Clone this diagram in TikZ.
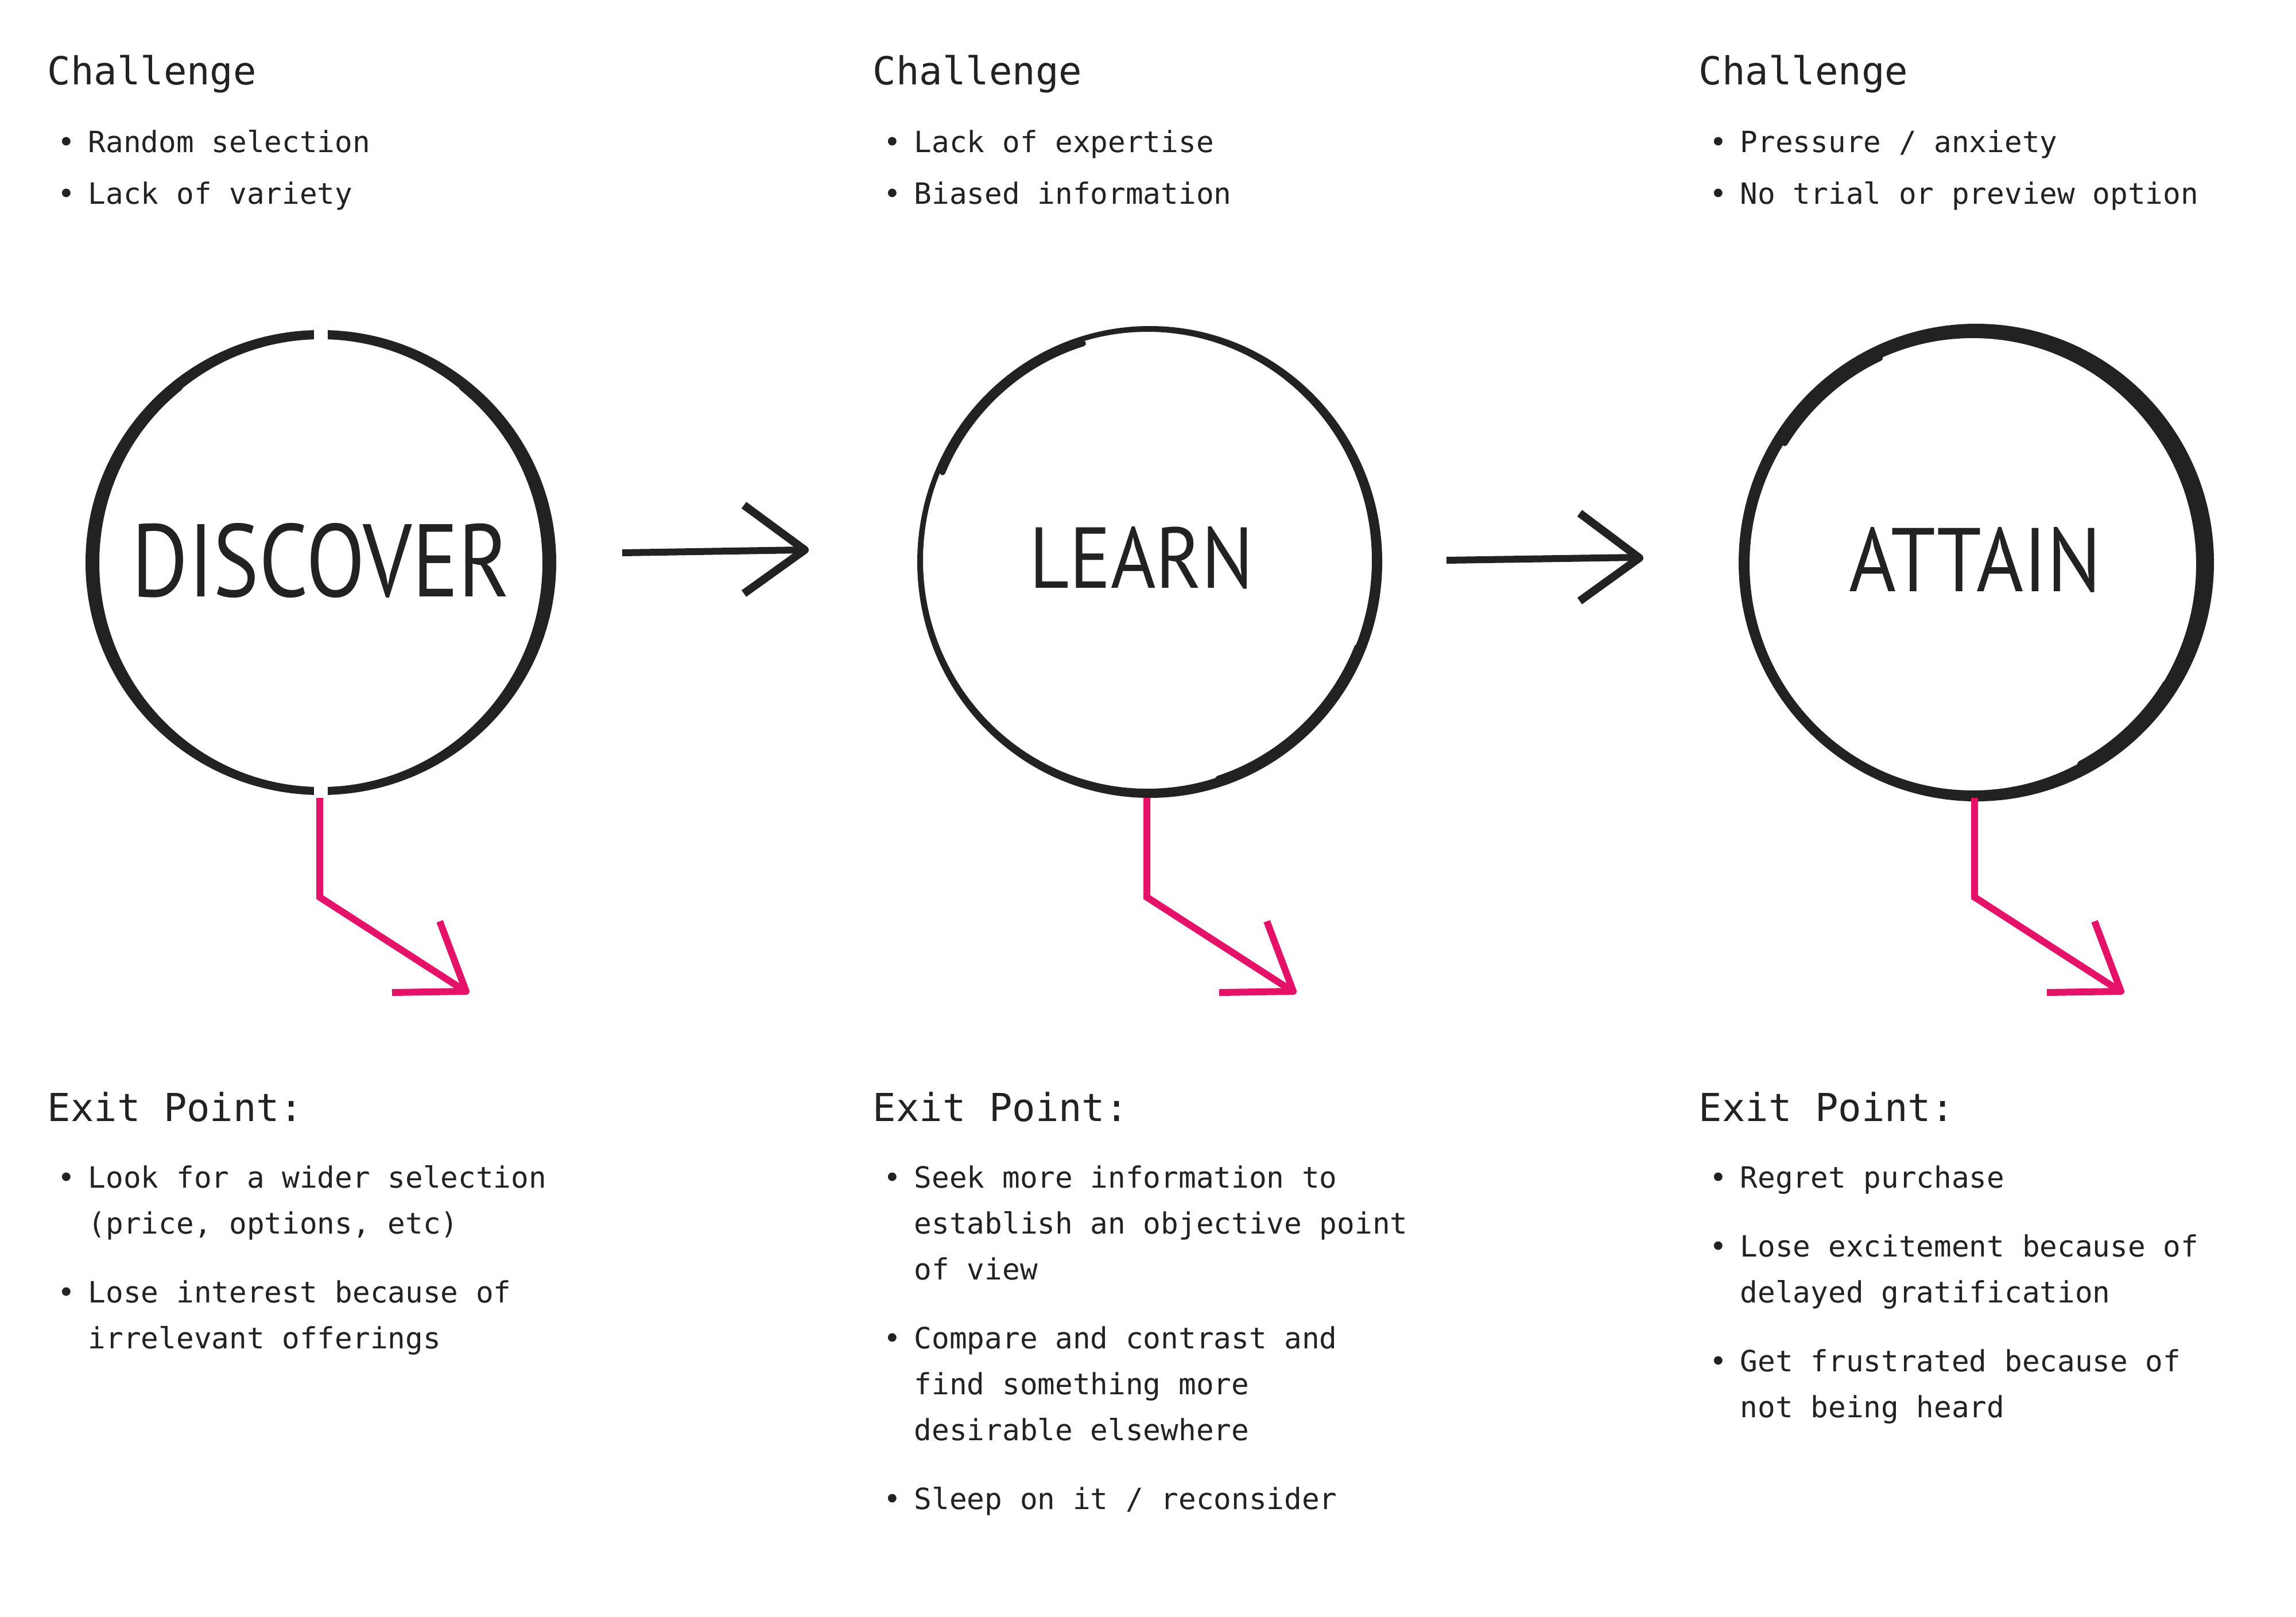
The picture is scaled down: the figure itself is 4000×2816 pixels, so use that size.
\documentclass[tikz,border=0pt]{standalone}
\usepackage{fontspec}
\usepackage{graphicx}
\newfontfamily\plexfont{DejaVu Sans Mono}
\newfontfamily\handfont{PT Sans}
\definecolor{ink}{HTML}{222222}
\definecolor{pinkc}{HTML}{E5126A}
\tikzset{
  head/.style={anchor=base west, inner sep=0pt, text=ink, font=\plexfont\fontsize{16.8pt}{16.8pt}\selectfont},
  item/.style={anchor=base west, inner sep=0pt, text=ink, font=\plexfont\fontsize{12.75pt}{12.75pt}\selectfont},
  word/.style={inner sep=0pt, text=ink, font=\handfont},
  shaft/.style={draw=ink, line width=3pt, line cap=butt},
  ahead/.style={draw=ink, line width=3.5pt, line join=round, line cap=butt},
  exitshaft/.style={draw=pinkc, line width=3pt, line join=miter, line cap=butt},
  exithead/.style={draw=pinkc, line width=3pt, line join=round, line cap=butt},
  extra/.style={draw=ink, line width=2.5pt, line cap=round},
  bulge/.style={draw=ink, line width=5pt, line cap=round},
}
\newcommand\bul{\llap{•\hspace{5.7pt}}}
\begin{document}
\begin{tikzpicture}[x=0.25pt,y=-0.25pt]
\fill[white] (0,0) rectangle (4000,2816);
\useasboundingbox (0,0) rectangle (4000,2816);

% ---------- circles ----------
% DISCOVER ring with gaps at top and bottom
\fill[ink, even odd rule] (559,980) ellipse [x radius=410, y radius=405]
                          (559,981) ellipse [x radius=386, y radius=390];
\draw[bulge] (559,980) ++(213:397 and 396) arc [start angle=213, end angle=231, x radius=397, y radius=396];
\draw[bulge] (559,980) ++(309:397 and 396) arc [start angle=309, end angle=327, x radius=397, y radius=396];
\fill[white] (547,555) rectangle (571,605);
\fill[white] (547,1355) rectangle (571,1400);
\node[word] (discover) at (559,977) {\resizebox{164.5pt}{32pt}{DISCOVER}};

% LEARN ring
\fill[ink, even odd rule] (2003,979) ellipse [x radius=405, y radius=411]
                          (1999,976) ellipse [x radius=391, y radius=398];
\draw[extra] (2001,978) ++(203:390 and 397) arc [start angle=203, end angle=253, x radius=390, y radius=397];
\draw[extra] (2001,978) ++(22:392 and 398) arc [start angle=22, end angle=72, x radius=392, y radius=398];
\node[word] (learn) at (1989,972) {\resizebox{97.5pt}{26.75pt}{LEARN}};

% ATTAIN ring
\fill[ink, even odd rule] (3443,980) ellipse [x radius=414, y radius=416]
                          (3437,983) ellipse [x radius=389, y radius=394];
\draw[extra] (3440,981) ++(212:390 and 394) arc [start angle=212, end angle=245, x radius=390, y radius=394];
\draw[extra] (3440,981) ++(32:392 and 396) arc [start angle=32, end angle=62, x radius=392, y radius=396];
\node[word] (attain) at (3441,975) {\resizebox{109.75pt}{28pt}{ATTAIN}};

% ---------- black arrows ----------
\coordinate (a1s) at (1084,963);
\coordinate (a1e) at (1398,958);
\coordinate (a1u) at (1296,880);
\coordinate (a1t) at (1402,958);
\coordinate (a1l) at (1296,1034);
\draw[shaft] (a1s) -- (a1e);
\draw[ahead] (a1u) -- (a1t) -- (a1l);

\coordinate (a2s) at (2520,976);
\coordinate (a2e) at (2852,971);
\coordinate (a2u) at (2752,894);
\coordinate (a2t) at (2856,972);
\coordinate (a2l) at (2752,1047);
\draw[shaft] (a2s) -- (a2e);
\draw[ahead] (a2u) -- (a2t) -- (a2l);

% ---------- pink exit arrows ----------
\foreach \i/\dx in {1/0,2/1441,3/2883}{
  \coordinate (x\i s) at ({557+\dx},1390);
  \coordinate (x\i c) at ({557+\dx},1563);
  \coordinate (x\i t) at ({808+\dx},1725);
  \coordinate (x\i u) at ({766+\dx},1605);
  \coordinate (x\i l) at ({683+\dx},1729);
  \draw[exitshaft] (x\i s) -- (x\i c) -- (x\i t);
  \draw[exithead] (x\i u) -- ({812+\dx},1727) -- (x\i l);
}

% ---------- challenge texts ----------
\node[head] (ch1) at (82,147) {Challenge};
\node[item] (ch1a) at (153,265) {\bul Random selection};
\node[item] (ch1b) at (153,355) {\bul Lack of variety};

\node[head] (ch2) at (1520,147) {Challenge};
\node[item] (ch2a) at (1592,265) {\bul Lack of expertise};
\node[item] (ch2b) at (1592,355) {\bul Biased information};

\node[head] (ch3) at (2959,147) {Challenge};
\node[item] (ch3a) at (3031,265) {\bul Pressure / anxiety};
\node[item] (ch3b) at (3031,355) {\bul No trial or preview option};

% ---------- exit point texts ----------
\node[head] (ex1) at (82,1953) {Exit Point:};
\node[item] (ex1a) at (153,2069) {\bul Look for a wider selection};
\node[item] (ex1b) at (153,2149) {(price, options, etc)};
\node[item] (ex1c) at (153,2269) {\bul Lose interest because of};
\node[item] (ex1d) at (153,2349) {irrelevant offerings};

\node[head] (ex2) at (1520,1953) {Exit Point:};
\node[item] (ex2a) at (1592,2069) {\bul Seek more information to};
\node[item] (ex2b) at (1592,2149) {establish an objective point};
\node[item] (ex2c) at (1592,2229) {of view};
\node[item] (ex2d) at (1592,2349) {\bul Compare and contrast and};
\node[item] (ex2e) at (1592,2429) {find something more};
\node[item] (ex2f) at (1592,2509) {desirable elsewhere};
\node[item] (ex2g) at (1592,2629) {\bul Sleep on it / reconsider};

\node[head] (ex3) at (2959,1953) {Exit Point:};
\node[item] (ex3a) at (3031,2069) {\bul Regret purchase};
\node[item] (ex3b) at (3031,2189) {\bul Lose excitement because of};
\node[item] (ex3c) at (3031,2269) {delayed gratification};
\node[item] (ex3d) at (3031,2389) {\bul Get frustrated because of};
\node[item] (ex3e) at (3031,2469) {not being heard};
\end{tikzpicture}
\end{document}
